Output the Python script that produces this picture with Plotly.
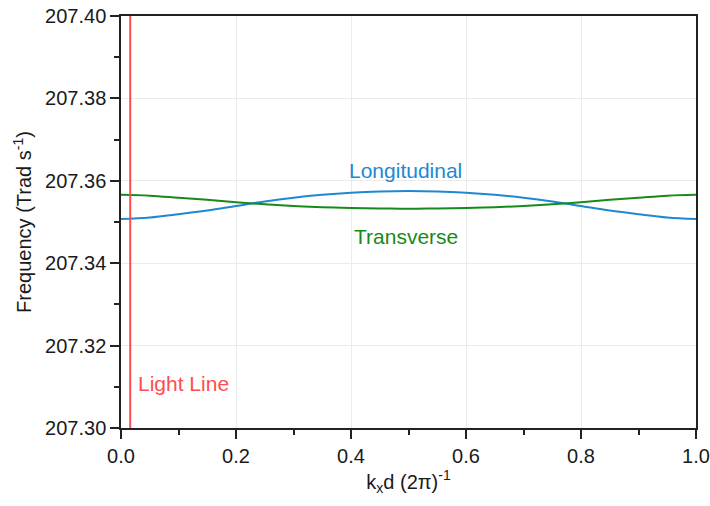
import plotly.graph_objects as go

# Dispersion of the two chain modes across the Brillouin zone
kx = [0.00, 0.05, 0.10, 0.15, 0.20, 0.25, 0.30, 0.35, 0.40, 0.45, 0.50,
      0.55, 0.60, 0.65, 0.70, 0.75, 0.80, 0.85, 0.90, 0.95, 1.00]
longitudinal = [207.3507, 207.3511, 207.3519, 207.3528, 207.3539, 207.3550,
                207.3559, 207.3566, 207.3571, 207.3574, 207.3575,
                207.3574, 207.3571, 207.3566, 207.3559, 207.3550,
                207.3539, 207.3528, 207.3519, 207.3511, 207.3507]
transverse = [207.3566, 207.3564, 207.3559, 207.3554, 207.3548, 207.3543,
              207.3539, 207.3536, 207.3534, 207.3533, 207.3532,
              207.3533, 207.3534, 207.3536, 207.3539, 207.3543,
              207.3548, 207.3554, 207.3559, 207.3564, 207.3566]
light_kx = [0.016, 0.016]
light_freq = [207.30, 207.40]

BLUE = "#1E88D0"
GREEN = "#178A17"
RED = "#FF4D4D"
INK = "#1a1a1a"
FONT = "Liberation Sans, Arial, sans-serif"

fig = go.Figure()
fig.add_trace(go.Scatter(x=kx, y=longitudinal, mode="lines",
                         line=dict(color=BLUE, width=2, shape="spline"),
                         name="Longitudinal"))
fig.add_trace(go.Scatter(x=kx, y=transverse, mode="lines",
                         line=dict(color=GREEN, width=2, shape="spline"),
                         name="Transverse"))
fig.add_trace(go.Scatter(x=light_kx, y=light_freq, mode="lines",
                         line=dict(color=RED, width=2), name="Light Line"))

fig.add_annotation(x=0.495, y=207.3625, text="Longitudinal", showarrow=False,
                   font=dict(color=BLUE, size=21, family=FONT))
fig.add_annotation(x=0.495, y=207.3465, text="Transverse", showarrow=False,
                   font=dict(color=GREEN, size=21, family=FONT))
fig.add_annotation(x=0.026, y=207.3108, text="Light Line", showarrow=False,
                   xanchor="left", font=dict(color=RED, size=21, family=FONT))

axis_common = dict(
    showline=True, linecolor="#222", linewidth=1.5, mirror=True,
    ticks="outside", ticklen=9, tickwidth=1.5, tickcolor="#222",
    showgrid=True, gridcolor="#EBEBEB", gridwidth=1,
    zeroline=False, automargin=False,
    tickfont=dict(size=20, color=INK, family=FONT),
)

fig.update_xaxes(
    range=[0, 1], dtick=0.2, tickformat=".1f",
    title=dict(text="k<sub>x</sub>d (2π)<sup>-1</sup>", standoff=9,
               font=dict(size=20, color=INK, family=FONT)),
    minor=dict(ticks="outside", ticklen=5, tickwidth=1.5, tickcolor="#222",
               dtick=0.1, showgrid=False),
    **axis_common,
)
fig.update_yaxes(
    range=[207.30, 207.40], dtick=0.02, tickformat=".2f",
    title=dict(text="Frequency (Trad s<sup>-1</sup>)", standoff=8,
               font=dict(size=20, color=INK, family=FONT)),
    minor=dict(ticks="outside", ticklen=5, tickwidth=1.5, tickcolor="#222",
               dtick=0.01, showgrid=False),
    **axis_common,
)

fig.update_layout(
    width=710, height=506,
    margin=dict(l=121, r=14, t=16, b=78),
    paper_bgcolor="white", plot_bgcolor="white",
    showlegend=False,
    font=dict(family=FONT),
)

fig.write_html("out.html")
